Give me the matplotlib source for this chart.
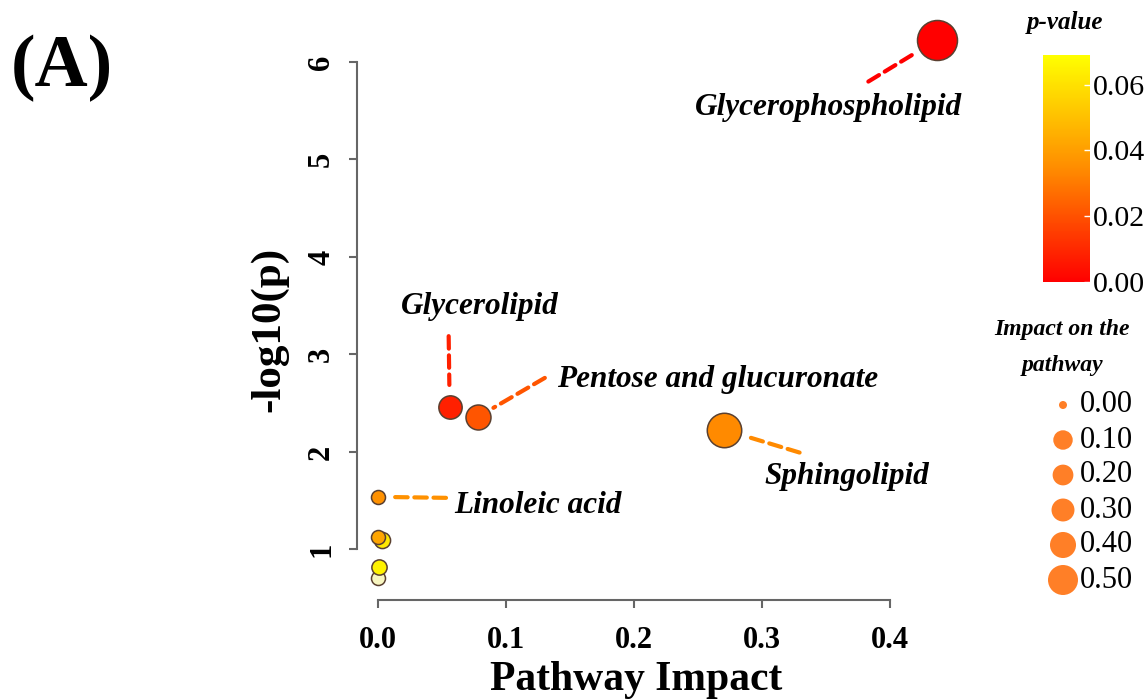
import numpy as np
import matplotlib
matplotlib.use('Agg')
import matplotlib.pyplot as plt
from matplotlib.colors import LinearSegmentedColormap, Normalize

plt.rcParams['font.family'] = ['Liberation Serif', 'DejaVu Serif']

# pathway impact vs -log10(p)
names = ['Glycerophospholipid', 'Glycerolipid', 'Pentose and glucuronate', 'Sphingolipid',
         'Linoleic acid', None, None, None, None]
impact = [0.437, 0.056, 0.078, 0.270, 0.000, 0.000, 0.003, 0.001, 0.000]
neglogp = [6.23, 2.46, 2.36, 2.23, 1.54, 1.13, 1.10, 0.82, 0.71]
# p-value as shown by the colour of each bubble
color_p = [0.000, 0.008, 0.021, 0.034, 0.036, 0.042, 0.062, 0.065, 0.080]

x_ticks = [0.0, 0.1, 0.2, 0.3, 0.4]
y_ticks = [1, 2, 3, 4, 5, 6]
cbar_ticks = [0.00, 0.02, 0.04, 0.06]
legend_vals = [0.00, 0.10, 0.20, 0.30, 0.40, 0.50]

cmap = LinearSegmentedColormap.from_list('pv', ['#ff0000', '#ff8c00', '#ffff00'])
cmap.set_over('#f8f6c0')
norm = Normalize(vmin=0, vmax=0.069)

W, H = 1148, 700
fig = plt.figure(figsize=(W / 100, H / 100), dpi=100)

# main axes, placed in pixels
L, R, T, B = 357, 960, 15, 600
ax = fig.add_axes([L / W, 1 - B / H, (R - L) / W, (B - T) / H])
ax.set_xlim(-0.0164, 0.4547)
ax.set_ylim(0.482, 6.482)


def radius(v):
    return 7 + 13 * np.sqrt(v / 0.437)


def s_from_r(r):
    return (1.44 * r) ** 2


order = np.argsort(color_p)[::-1]
for i in order:
    ax.scatter(impact[i], neglogp[i], s=s_from_r(radius(impact[i])),
               c=[cmap(norm(color_p[i]))], edgecolors='#5a4030', linewidths=1.1,
               zorder=3, clip_on=False)

# label offsets in pixels: (far end of dash, gap to bubble, text pos, ha)
label_style = {
    'Glycerophospholipid': ((-69, -42), 19, (-109, -68), 'center'),
    'Glycerolipid': ((-1, 71), 16, (30, 101), 'center'),
    'Pentose and glucuronate': ((67, 39), 13, (79, 37), 'left'),
    'Sphingolipid': ((76, -23), 20, (123, -47), 'center'),
    'Linoleic acid': ((68, -1), 11, (76, -9), 'left'),
}
for i, nm in enumerate(names):
    if nm is None:
        continue
    far, gap, tpos, ha = label_style[nm]
    col = cmap(norm(color_p[i]))
    ax.annotate('', xy=(impact[i], neglogp[i]), xytext=far, textcoords='offset pixels',
                arrowprops=dict(arrowstyle='-', color=col, lw=3, linestyle=(0, (3, 1.6)),
                                shrinkA=0, shrinkB=gap), zorder=2, annotation_clip=False)
    ax.annotate(nm, xy=(impact[i], neglogp[i]), xytext=tpos, textcoords='offset pixels',
                ha=ha, va='center', fontsize=22.5, fontweight='bold', fontstyle='italic',
                annotation_clip=False)

for sp in ['top', 'right']:
    ax.spines[sp].set_visible(False)
for sp in ['left', 'bottom']:
    ax.spines[sp].set_color('#666666')
    ax.spines[sp].set_linewidth(1.5)
ax.spines['left'].set_bounds(1, 6)
ax.spines['bottom'].set_bounds(0, 0.4)
ax.set_xticks(x_ticks)
ax.set_xticklabels(['%.1f' % v for v in x_ticks])
ax.set_yticks(y_ticks)
ax.set_yticklabels([str(v) for v in y_ticks], rotation=90, va='center')
ax.tick_params(axis='both', length=6, width=1.5, color='#666666', labelsize=22)
ax.tick_params(axis='x', pad=13)
ax.tick_params(axis='y', pad=9)
for lab in ax.get_xticklabels() + ax.get_yticklabels():
    lab.set_fontweight('bold')
ax.set_xlabel('Pathway Impact', fontsize=30, fontweight='bold')
ax.xaxis.set_label_coords(0.463, -0.105)
ax.set_ylabel('-log10(p)', fontsize=31, fontweight='bold')
ax.yaxis.set_label_coords(-0.114, 0.463)
ax.patch.set_alpha(0)

fig.text(62 / W, 1 - 68 / H, '(A)', fontsize=53, fontweight='bold', ha='center', va='center')

# p-value colour bar
cax = fig.add_axes([1043 / W, 1 - 282 / H, 47 / W, 227 / H])
sm = plt.cm.ScalarMappable(cmap=cmap, norm=norm)
cb = fig.colorbar(sm, cax=cax, ticks=cbar_ticks)
cb.outline.set_visible(False)
cb.ax.set_yticklabels(['%.2f' % v for v in cbar_ticks])
cb.ax.tick_params(length=4, width=1, color='#ffffff', direction='in', labelsize=21.5, pad=2)
fig.text(1065 / W, 1 - 22 / H, 'p-value', fontsize=18, fontweight='bold', fontstyle='italic',
         ha='center', va='center')

# bubble size legend
fig.text(1062 / W, 1 - 330 / H, 'Impact on the', fontsize=17, fontweight='bold',
         fontstyle='italic', ha='center', va='center')
fig.text(1062 / W, 1 - 365 / H, 'pathway', fontsize=17, fontweight='bold',
         fontstyle='italic', ha='center', va='center')
lax = fig.add_axes([0, 0, 1, 1])
lax.set_xlim(0, W)
lax.set_ylim(H, 0)
lax.axis('off')
for k, v in enumerate(legend_vals):
    r = 4 if v == 0 else 9.5 + 5.5 * (v / 0.5) ** 2
    yy = 405 + k * 35
    lax.scatter(1063, yy, s=s_from_r(r), c='#ff7f27', edgecolors='none')
    lax.text(1080, yy, '%.2f' % v, fontsize=22, ha='left', va='center')

fig.savefig('out.png', dpi=100)
